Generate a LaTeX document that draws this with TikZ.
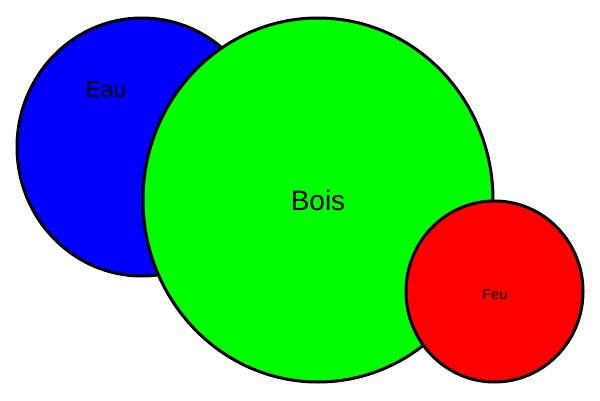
\documentclass[tikz,border=0pt]{standalone}
\usepackage{fontspec}
\setmainfont{Liberation Sans}
\usetikzlibrary{shapes.geometric}
\begin{document}
\begin{tikzpicture}[x=1pt,y=1pt,
  blob/.style={ellipse,draw=black,line width=3pt,inner sep=0pt},
  lbl/.style={text=black,inner sep=0pt}]
\useasboundingbox (0,0) rectangle (600,400);
\node[blob,fill={rgb,255:red,0;green,0;blue,255},minimum width=250pt,minimum height=258pt] (eau) at (142,253) {};
\node[blob,fill={rgb,255:red,0;green,255;blue,0},minimum width=350pt,minimum height=364pt] (bois) at (318,200) {};
\node[blob,fill={rgb,255:red,255;green,0;blue,0},minimum width=177pt,minimum height=181pt] (feu) at (494.5,108.5) {};
\node[lbl,font=\fontsize{23}{26}\selectfont] (teau) at (106,310) {Eau};
\node[lbl,font=\fontsize{28}{32}\selectfont] (tbois) at (318,200) {Bois};
\node[lbl,font=\fontsize{14.5}{17}\selectfont] (tfeu) at (495,105.5) {Feu};
\end{tikzpicture}
\end{document}
